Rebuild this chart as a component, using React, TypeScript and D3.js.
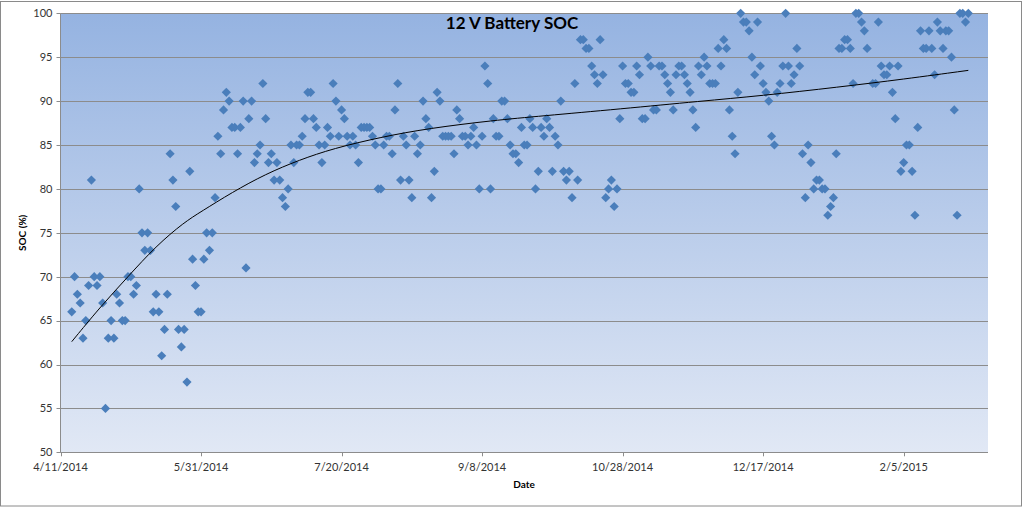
import React from "react";
import * as d3 from "d3";

// ---- Data ----
const startDate = new Date(2014, 3, 11); // 4/11/2014
const axisEndOffset = 330; // axis max (3/7/2015)
const tickStepDays = 50;

// day offsets from 4/11/2014
const dayOffsets: number[] = [
  4, 5, 6, 7, 8, 9, 10, 11, 12, 13, 14, 15, 16, 17, 18, 19, 20, 21, 22, 23,
  24, 25, 26, 27, 28, 29, 30, 31, 32, 33, 34, 35, 36, 37, 38, 39, 40, 41, 42, 43,
  44, 45, 46, 47, 48, 49, 50, 51, 52, 53, 54, 55, 56, 57, 58, 59, 60, 61, 62, 63,
  64, 65, 66, 67, 68, 69, 70, 71, 72, 73, 74, 75, 76, 77, 78, 79, 80, 81, 82, 83,
  84, 85, 86, 87, 88, 89, 90, 91, 92, 93, 94, 95, 96, 97, 98, 99, 100, 101, 102, 103,
  104, 105, 106, 107, 108, 109, 110, 111, 112, 113, 114, 115, 116, 117, 118, 119, 120, 121, 122, 123,
  124, 125, 126, 127, 128, 129, 130, 131, 132, 133, 134, 135, 136, 137, 138, 139, 140, 141, 142, 143,
  144, 145, 146, 147, 148, 149, 150, 151, 152, 153, 154, 155, 156, 157, 158, 159, 160, 161, 162, 163,
  164, 165, 166, 167, 168, 169, 170, 171, 172, 173, 174, 175, 176, 177, 178, 179, 180, 181, 182, 183,
  184, 185, 186, 187, 188, 189, 190, 191, 192, 193, 194, 195, 196, 197, 198, 199, 200, 201, 202, 203,
  204, 205, 206, 207, 208, 209, 210, 211, 212, 213, 214, 215, 216, 217, 218, 219, 220, 221, 222, 223,
  224, 225, 226, 227, 228, 229, 230, 231, 232, 233, 234, 235, 236, 237, 238, 239, 240, 241, 242, 243,
  244, 245, 246, 247, 248, 249, 250, 251, 252, 253, 254, 255, 256, 257, 258, 259, 260, 261, 262, 263,
  264, 265, 266, 267, 268, 269, 270, 271, 272, 273, 274, 275, 276, 277, 278, 279, 280, 281, 282, 283,
  284, 285, 286, 287, 289, 290, 291, 292, 293, 294, 295, 296, 297, 298, 299, 300, 301, 302, 303, 304,
  305, 306, 307, 308, 309, 310, 311, 312, 313, 314, 315, 316, 317, 318, 319, 320, 321, 322, 323,
];

// 12 V battery state of charge (%)
const socValues: number[] = [
  66, 70, 68, 67, 63, 65, 69, 81, 70, 69, 70, 67, 55, 63, 65, 63, 68, 67, 65, 65,
  70, 70, 68, 69, 80, 75, 73, 75, 73, 66, 68, 66, 61, 64, 68, 84, 81, 78, 64, 62,
  64, 58, 82, 72, 69, 66, 66, 72, 75, 73, 75, 79, 86, 84, 89, 91, 90, 87, 87, 84,
  87, 90, 71, 88, 90, 83, 84, 85, 92, 88, 83, 84, 81, 83, 81, 79, 78, 80, 85, 83,
  85, 85, 86, 88, 91, 91, 88, 87, 85, 83, 85, 87, 86, 92, 90, 86, 89, 88, 86, 85,
  86, 85, 83, 87, 87, 87, 87, 86, 85, 80, 80, 85, 86, 86, 84, 89, 92, 81, 86, 85,
  81, 79, 86, 84, 85, 90, 88, 87, 79, 82, 91, 90, 86, 86, 86, 86, 84, 89, 88, 86,
  86, 85, 86, 87, 85, 80, 86, 94, 92, 80, 88, 86, 86, 90, 90, 88, 85, 84, 84, 83,
  87, 85, 85, 88, 87, 80, 82, 87, 86, 88, 87, 82, 86, 85, 90, 82, 81, 82, 79, 92,
  81, 97, 97, 96, 96, 94, 93, 92, 97, 93, 79, 80, 81, 78, 80, 88, 94, 92, 92, 91,
  91, 94, 93, 88, 88, 95, 94, 89, 89, 94, 94, 93, 92, 91, 89, 93, 94, 94, 93, 92,
  91, 89, 87, 94, 93, 95, 94, 92, 92, 92, 96, 94, 97, 96, 89, 86, 84, 91, 100, 99,
  99, 98, 95, 93, 99, 94, 92, 91, 90, 86, 85, 91, 92, 94, 100, 94, 92, 93, 96, 94,
  84, 79, 85, 83, 80, 81, 81, 80, 80, 77, 78, 79, 84, 96, 96, 97, 97, 96, 92, 100,
  100, 99, 98, 96, 92, 92, 99, 94, 93, 93, 94, 91, 88, 94, 82, 83, 85, 85, 82, 77,
  87, 98, 96, 96, 98, 96, 93, 99, 98, 96, 98, 98, 95, 89, 77, 100, 100, 99, 100,
];

// trendline (day offset, SOC %)
const trendDays: number[] = [4, 14, 24, 34, 44, 50, 61, 73, 85, 97, 114, 131, 154, 171, 199, 228, 249, 277, 300, 323];
const trendValues: number[] = [62.6, 66.5, 70.0, 73.5, 76.2, 77.4, 79.6, 81.7, 83.3, 84.6, 85.9, 86.9, 87.8, 88.3, 89.1, 90.0, 90.6, 91.6, 92.5, 93.5];

const yTickValues: number[] = [50, 55, 60, 65, 70, 75, 80, 85, 90, 95, 100];
const titleText = "12 V Battery SOC";
const xAxisTitle = "Date";
const yAxisTitle = "SOC (%)";

const FONT = "Lato, 'Liberation Sans', sans-serif";

export default function App() {
  const W = 1024;
  const H = 507;
  const left = 60.5;
  const right = 988;
  const top = 13.3;
  const bottom = 452.3;

  const x = d3
    .scaleTime()
    .domain([startDate, d3.timeDay.offset(startDate, axisEndOffset)])
    .range([left, right]);
  const y = d3.scaleLinear().domain([50, 100]).range([bottom, top]);

  const points = dayOffsets.map((d, i) => ({
    date: d3.timeDay.offset(startDate, d),
    v: socValues[i],
  }));

  const xTicks = d3
    .range(0, axisEndOffset, tickStepDays)
    .map((o) => d3.timeDay.offset(startDate, o));
  const fmt = d3.timeFormat("%-m/%-d/%Y");

  const trendPath = d3
    .line<number>()
    .x((d) => x(d3.timeDay.offset(startDate, d)))
    .y((_, i) => y(trendValues[i]))
    .curve(d3.curveBasis)(trendDays);

  const marker = d3.symbol(d3.symbolSquare, 42)() as string;

  return (
    <svg
      width={W}
      height={H}
      style={{ position: "fixed", left: 0, top: 0, background: "#fff" }}
    >
      <defs>
        <linearGradient id="plotBg" x1="0" y1="0" x2="0" y2="1">
          <stop offset="0%" stopColor="#95b3e1" />
          <stop offset="100%" stopColor="#e1e8f5" />
        </linearGradient>
      </defs>
      <rect x={0.5} y={1.5} width={1021} height={504.5} fill="#fff" stroke="#8a8a8a" strokeWidth={1} />
      <rect x={left} y={top} width={right - left} height={bottom - top} fill="url(#plotBg)" />

      {/* gridlines */}
      {yTickValues.map((t) => (
        <line
          key={"g" + t}
          x1={left}
          x2={right}
          y1={Math.round(y(t)) + 0.5}
          y2={Math.round(y(t)) + 0.5}
          stroke="#8c8c8c"
          strokeWidth={1}
        />
      ))}

      {/* y axis */}
      <line x1={left} x2={left} y1={top} y2={bottom} stroke="#8c8c8c" />
      {yTickValues.map((t) => (
        <g key={"yt" + t}>
          <line x1={left - 4} x2={left} y1={Math.round(y(t)) + 0.5} y2={Math.round(y(t)) + 0.5} stroke="#8c8c8c" />
          <text
            x={left - 8}
            y={y(t)}
            dy="0.35em"
            textAnchor="end"
            fontFamily={FONT}
            fontSize={11}
            fill="#333"
          >
            {t}
          </text>
        </g>
      ))}

      {/* x axis */}
      <line x1={left} x2={right} y1={Math.round(bottom) + 0.5} y2={Math.round(bottom) + 0.5} stroke="#8c8c8c" />
      {xTicks.map((t, i) => (
        <g key={"xt" + i}>
          <line x1={Math.round(x(t)) + 0.5} x2={Math.round(x(t)) + 0.5} y1={bottom} y2={bottom + 4} stroke="#8c8c8c" />
          <text
            x={x(t)}
            y={471}
            textAnchor="middle"
            fontFamily={FONT}
            fontSize={11}
            fill="#333"
          >
            {fmt(t)}
          </text>
        </g>
      ))}

      {/* points */}
      {points.map((p, i) => (
        <path
          key={"p" + i}
          d={marker}
          transform={`translate(${x(p.date)},${y(p.v)}) rotate(45)`}
          fill="#4a7ebb"
        />
      ))}

      {/* trendline */}
      <path d={trendPath || ""} fill="none" stroke="#000" strokeWidth={1} />

      {/* titles */}
      <text x={512} y={29} textAnchor="middle" fontFamily={FONT} fontWeight="bold" fontSize={17} fill="#000">
        {titleText}
      </text>
      <text x={524} y={488} textAnchor="middle" fontFamily={FONT} fontWeight="bold" fontSize={10} fill="#000">
        {xAxisTitle}
      </text>
      <text
        transform={`translate(26,${(top + bottom) / 2}) rotate(-90)`}
        textAnchor="middle"
        fontFamily={FONT}
        fontWeight="bold"
        fontSize={10}
        fill="#000"
      >
        {yAxisTitle}
      </text>
    </svg>
  );
}
